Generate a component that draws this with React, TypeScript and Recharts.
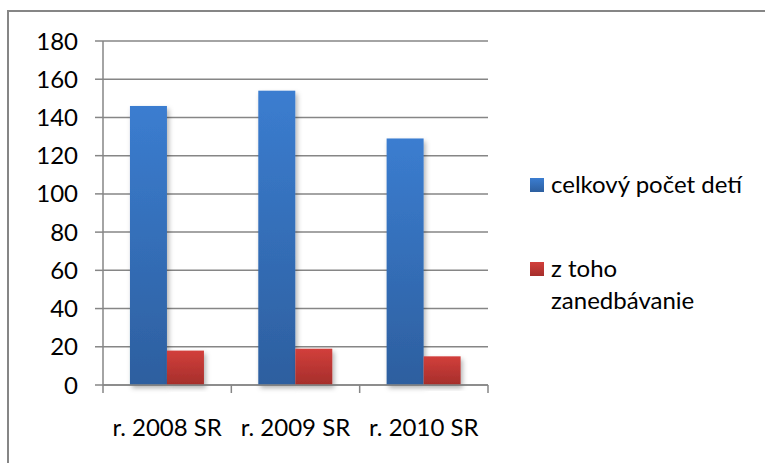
import { Bar, BarChart, CartesianGrid, XAxis, YAxis } from "recharts";

const categories = ["r. 2008 SR", "r. 2009 SR", "r. 2010 SR"];
const totalChildren = [146, 154, 129];
const neglected = [18, 19, 15];
const seriesNames = ["celkový počet detí", "z toho zanedbávanie"];
const yTicks = [0, 20, 40, 60, 80, 100, 120, 140, 160, 180];

const FONT = "Lato, Carlito, Calibri, sans-serif";
const FONT_SIZE = 24;
const GRID = "#868686";

const data = categories.map((name, i) => ({
  name,
  total: totalChildren[i],
  neglected: neglected[i],
}));

// plot area: x 103..488, y 41..385
const PLOT_W = 385;
const BAND = PLOT_W / categories.length;

function CategoryTick(props: any) {
  const { x, y, payload, index } = props;
  return (
    <g>
      <line x1={x - BAND / 2} x2={x - BAND / 2} y1={y} y2={y + 8} stroke={GRID} strokeWidth={1.5} />
      {index === categories.length - 1 && (
        <line x1={x + BAND / 2} x2={x + BAND / 2} y1={y} y2={y + 8} stroke={GRID} strokeWidth={1.5} />
      )}
      <text x={x} y={y + 51} textAnchor="middle" fontSize={FONT_SIZE} fontFamily={FONT} fill="#000">
        {payload.value}
      </text>
    </g>
  );
}

function ShadowBar(props: any) {
  const { x, y, width, height, fill } = props;
  if (!height || height <= 0) return null;
  return <rect x={x} y={y} width={width} height={height} fill={fill} filter="url(#barShadow)" />;
}

const legendTop = ["#3b7dd0", "#d23f3b"];
const legendBottom = ["#2d5f9f", "#a52e2b"];

function LegendBox() {
  return (
    <div
      style={{
        position: "absolute",
        left: 530,
        top: 168,
        width: 235,
        fontFamily: FONT,
        fontSize: FONT_SIZE,
        color: "#000",
        lineHeight: "32px",
      }}
    >
      {seriesNames.map((n, i) => (
        <div
          key={n}
          style={{ display: "flex", alignItems: "flex-start", marginBottom: i === 0 ? 52 : 0 }}
        >
          <span
            style={{
              display: "inline-block",
              width: 14,
              height: 14,
              marginTop: 10,
              marginRight: 7,
              background: `linear-gradient(${legendTop[i]}, ${legendBottom[i]})`,
              flexShrink: 0,
            }}
          />
          <span style={i === 0 ? { whiteSpace: "nowrap" } : { maxWidth: 170 }}>{n}</span>
        </div>
      ))}
    </div>
  );
}

export default function App() {
  return (
    <div style={{ position: "absolute", left: 0, top: 0, width: 765, height: 463, background: "#fff" }}>
      <div
        style={{
          position: "absolute",
          left: 7,
          top: 10,
          width: 758,
          height: 453,
          borderTop: `2px solid ${GRID}`,
          borderLeft: `2px solid ${GRID}`,
          boxSizing: "border-box",
        }}
      />
      <div style={{ position: "absolute", left: 0, top: 0 }}>
        <BarChart
          width={765}
          height={463}
          data={data}
          margin={{ top: 41, right: 277, bottom: 0, left: 0 }}
          barCategoryGap="21%"
          barGap={0}
        >
          <defs>
            <linearGradient id="gradBlue" x1="0" y1="0" x2="0" y2="1">
              <stop offset="0%" stopColor={legendTop[0]} />
              <stop offset="100%" stopColor={legendBottom[0]} />
            </linearGradient>
            <linearGradient id="gradRed" x1="0" y1="0" x2="0" y2="1">
              <stop offset="0%" stopColor={legendTop[1]} />
              <stop offset="100%" stopColor={legendBottom[1]} />
            </linearGradient>
            <filter id="barShadow" x="-20%" y="-10%" width="150%" height="130%">
              <feDropShadow dx="2" dy="3" stdDeviation="2.5" floodColor="#000" floodOpacity="0.3" />
            </filter>
          </defs>
          <CartesianGrid vertical={false} stroke={GRID} strokeWidth={1.5} />
          <XAxis
            dataKey="name"
            height={78}
            stroke={GRID}
            strokeWidth={1.5}
            tickLine={false}
            tickSize={0}
            tickMargin={0}
            interval={0}
            tick={<CategoryTick />}
          />
          <YAxis
            width={103}
            domain={[0, 180]}
            ticks={yTicks}
            interval={0}
            stroke={GRID}
            strokeWidth={1.5}
            tickSize={8}
            tickMargin={17}
            tick={{ fontSize: FONT_SIZE, fontFamily: FONT, fill: "#000" }}
          />
          <Bar
            dataKey="total"
            name={seriesNames[0]}
            fill="url(#gradBlue)"
            shape={<ShadowBar />}
            isAnimationActive={false}
          />
          <Bar
            dataKey="neglected"
            name={seriesNames[1]}
            fill="url(#gradRed)"
            shape={<ShadowBar />}
            isAnimationActive={false}
          />
        </BarChart>
      </div>
      <LegendBox />
    </div>
  );
}
